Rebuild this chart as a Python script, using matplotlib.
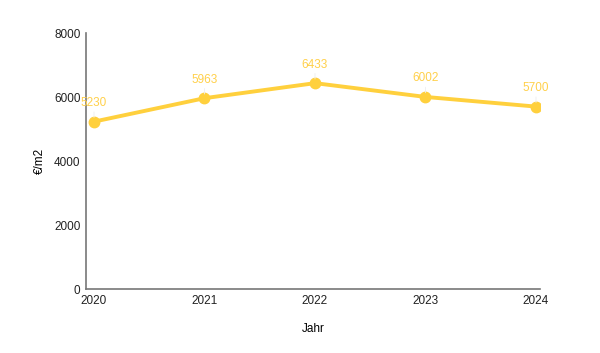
import matplotlib
matplotlib.use("Agg")
import matplotlib.pyplot as plt

plt.rcParams["font.family"] = ["Liberation Sans", "DejaVu Sans"]

years = [2020, 2021, 2022, 2023, 2024]
values = [5230, 5963, 6433, 6002, 5700]
yticks = [0, 2000, 4000, 6000, 8000]

line_color = "#FFD03D"
label_color = "#FFD04A"

fig = plt.figure(figsize=(6, 3.53), dpi=100)
ax = fig.add_axes([86/600, 1 - 289/353, (540-86)/600, (289-33)/353])
ax.plot(years, values, color=line_color, lw=2.8, marker="o", ms=7.5, solid_capstyle="round", zorder=3)
for x, y in zip(years, values):
    ax.annotate(str(y), (x, y), xytext=(0, 9), textcoords="offset points",
                ha="center", va="bottom", color=label_color, fontsize=8.5,
                arrowprops=dict(arrowstyle="-", color="#eeeeee", lw=0.6, shrinkA=0, shrinkB=3))
ax.set_xlim(2020 - 8/110.5, 2024 + 4/110.5)
ax.set_ylim(0, 8000)
ax.set_xticks(years)
ax.set_xticklabels([str(y) for y in years])
ax.set_yticks(yticks)
ax.tick_params(length=0, labelsize=8.5, colors="#222222", pad=4)
for s in ["top", "right"]:
    ax.spines[s].set_visible(False)
for s in ["left", "bottom"]:
    ax.spines[s].set_color("#777777")
    ax.spines[s].set_linewidth(1.2)
ax.set_xlabel("Jahr", fontsize=8.5, labelpad=12)
ax.set_ylabel("€/m2", fontsize=8.5, labelpad=6)
fig.savefig("out.png", dpi=100)
